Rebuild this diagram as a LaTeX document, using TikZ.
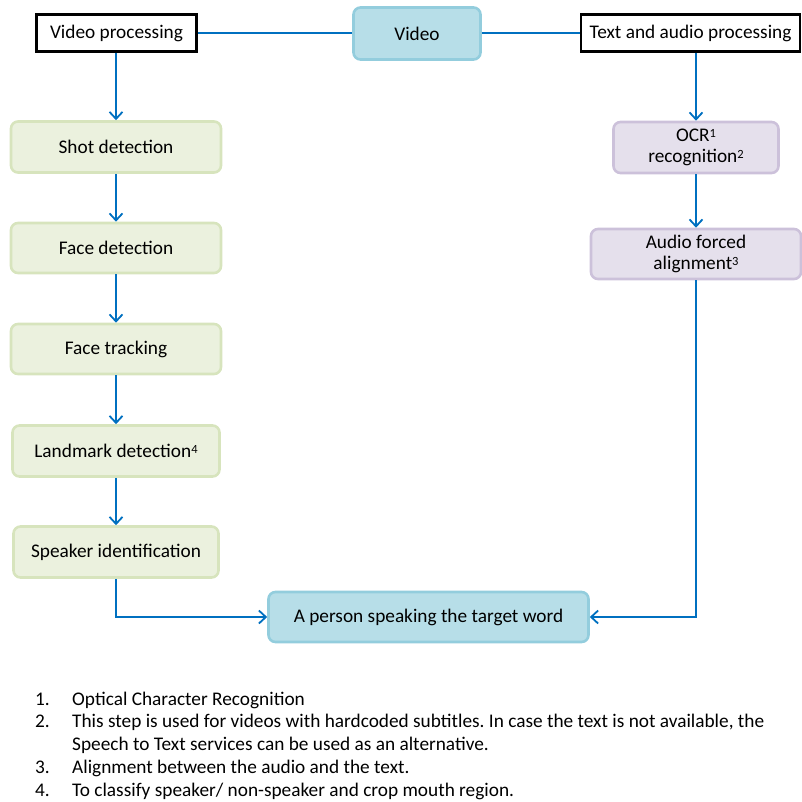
\documentclass[tikz,border=0pt]{standalone}
\usepackage{fontspec}
\setmainfont{Carlito}
\usetikzlibrary{arrows.meta}
\frenchspacing
\definecolor{arrowblue}{HTML}{0070C0}
\definecolor{greenF}{HTML}{EBF1DE}
\definecolor{greenB}{HTML}{D7E4BD}
\definecolor{purpleF}{HTML}{E5E0EC}
\definecolor{purpleB}{HTML}{CCC1DA}
\definecolor{blueF}{HTML}{B7DEE8}
\definecolor{blueB}{HTML}{93CDDD}
\newcommand\fnsup[1]{\raisebox{0.45ex}{\fontsize{12.5}{12.5}\selectfont #1}}
\begin{document}
\begin{tikzpicture}[x=1pt,y=-1pt,
  txt/.style={font=\fontsize{19.3}{21}\selectfont},
  box/.style={txt, rounded corners=7pt, line width=2.6pt, align=center, inner sep=0pt},
  greenbox/.style={box, draw=greenB, fill=greenF},
  purplebox/.style={box, draw=purpleB, fill=purpleF},
  bluebox/.style={box, draw=blueB, fill=blueF},
  blackbox/.style={txt, draw=black, fill=white, line width=2.6pt, inner sep=0pt, align=center},
  conn/.style={draw=arrowblue, line width=1.8pt},
  arr/.style={conn, -{Straight Barb[length=7pt,width=13pt,line width=1.8pt]}},
  fn/.style={txt, anchor=base west, inner sep=0pt}
]
\useasboundingbox (0,0) rectangle (802,801);

\node[blackbox, minimum width=160pt, minimum height=37pt] (vp) at (116.5,33) {Video processing};
\node[bluebox, minimum width=127pt, minimum height=52pt] (video) at (417,33.5) {Video};
\node[blackbox, minimum width=219pt, minimum height=37pt] (tap) at (690.5,33) {Text and audio processing};

\node[greenbox, minimum width=210pt, minimum height=51pt] (shot) at (116,147) {Shot detection};
\node[greenbox, minimum width=210pt, minimum height=50pt] (fdet) at (116,248) {Face detection};
\node[greenbox, minimum width=210pt, minimum height=50pt] (ftrack) at (116,349) {Face tracking};
\node[greenbox, minimum width=207pt, minimum height=51pt] (land) at (116,451) {Landmark detection\fnsup{4}};
\node[greenbox, minimum width=205pt, minimum height=51pt] (spk) at (116,552) {Speaker identification};

\node[purplebox, minimum width=165pt, minimum height=51pt] (ocr) at (696,147.5) {OCR\fnsup{1}\\recognition\fnsup{2}};
\node[purplebox, minimum width=210pt, minimum height=50pt] (afa) at (696,254) {Audio forced\\alignment\fnsup{3}};

\node[bluebox, minimum width=320pt, minimum height=50pt] (person) at (428.5,617) {A person speaking the target word};

\draw[conn] (vp.east) -- (vp.east -| video.west);
\draw[conn] (tap.west -| video.east) -- (tap.west);
\draw[arr] (vp.south -| shot.north) -- (shot.north);
\draw[arr] (shot) -- (fdet);
\draw[arr] (fdet) -- (ftrack);
\draw[arr] (ftrack) -- (land);
\draw[arr] (land) -- (spk);
\draw[arr] (spk.south) |- (person.west);
\draw[arr] (tap.south -| ocr.north) -- (ocr.north);
\draw[arr] (ocr) -- (afa);
\draw[arr] (afa.south) |- (person.east);

\node[fn] (n1) at (35,705) {1.};
\node[fn] (t1) at (72,705) {Optical Character Recognition};
\node[fn] (n2) at (35,727) {2.};
\node[fn] (t2) at (72,727) {This step is used for videos with hardcoded subtitles. In case the text is not available, the};
\node[fn] (t2b) at (72,750) {Speech to Text services can be used as an alternative.};
\node[fn] (n3) at (35,773) {3.};
\node[fn] (t3) at (72,773) {Alignment between the audio and the text.};
\node[fn] (n4) at (35,796) {4.};
\node[fn] (t4) at (72,796) {To classify speaker/ non-speaker and crop mouth region.};
\end{tikzpicture}
\end{document}
